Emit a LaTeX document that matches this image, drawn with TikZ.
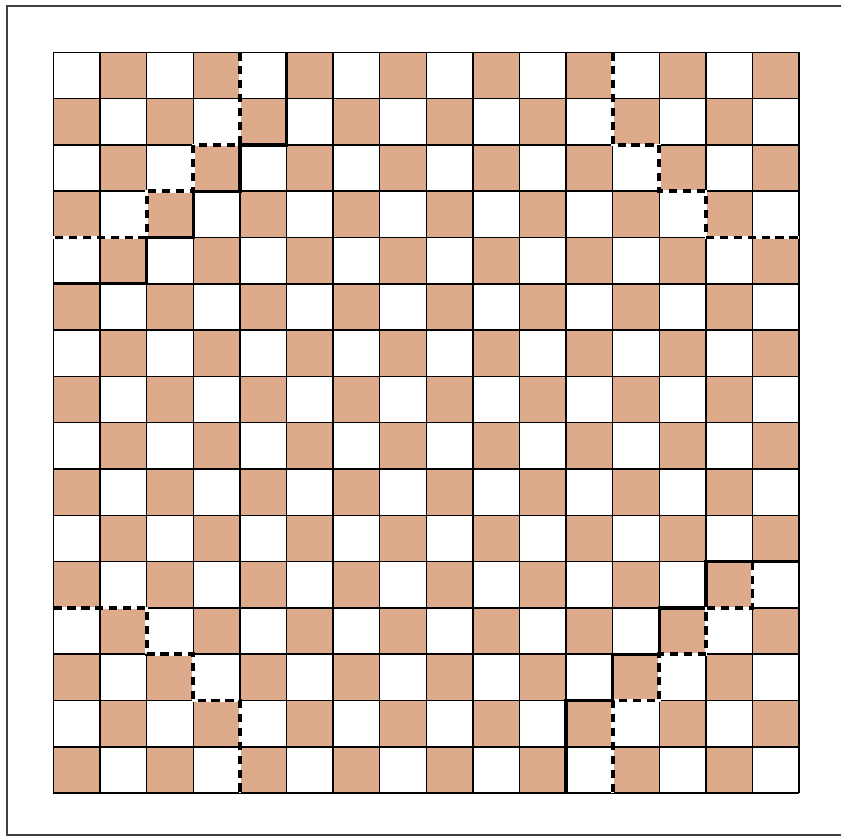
\documentclass[tikz,border=0pt]{standalone}
\definecolor{boardtan}{RGB}{222,170,140}
\tikzset{
  cut/.style={line width=2pt, line join=miter},
  cutdash/.style={line width=2.4pt, dash pattern=on 5pt off 3.5pt,
    preaction={draw, white, line width=1.6pt, solid}},
}
\begin{document}
\begin{tikzpicture}[x=1cm, y=0.9936cm]
    \useasboundingbox (-1.148,-0.95) rectangle (16.9,17.13);
    % frame, open on the right
    \draw[line width=1.1pt, black!75] (16.9,17) -- (-1,17) -- (-1,-0.9) -- (16.9,-0.9);
    % board
    \foreach \i in {0,...,15}
      \foreach \j in {0,...,15}{
        \pgfmathparse{int(mod(\i+\j,2))}
        \ifnum\pgfmathresult=0 \fill[boardtan] (\i,\j) rectangle ++(1,1); \fi
      }
    \foreach \k in {0,...,16}{
        \draw[line width=0.9pt] (\k,0) -- (\k,16);
        \draw[line width=0.9pt] (0,\k) -- (16,\k);
    }
    % top left
    \draw[cutdash] (4,16) |- (3,14) |- (2,13) |- (0,12);
    \draw[cut] (5,16) |- (4,14) |- (3,13) |- (2,12) |- (0,11);
    % top right
    \draw[cutdash] (12,16) |- (13,14) |- (14,13) |- (16,12);
    % bottom left
    \draw[cutdash] (0,4) -| (2,3) -| (3,2) -| (4,0);
    % bottom right
    \draw[cut] (16,5) -| (14,4) -| (13,3) -| (12,2) -| (11,0);
    \draw[cutdash] (15,5) |- (14,4) |- (13,3) |- (12,2) -- (12,0);
\end{tikzpicture}
\end{document}
